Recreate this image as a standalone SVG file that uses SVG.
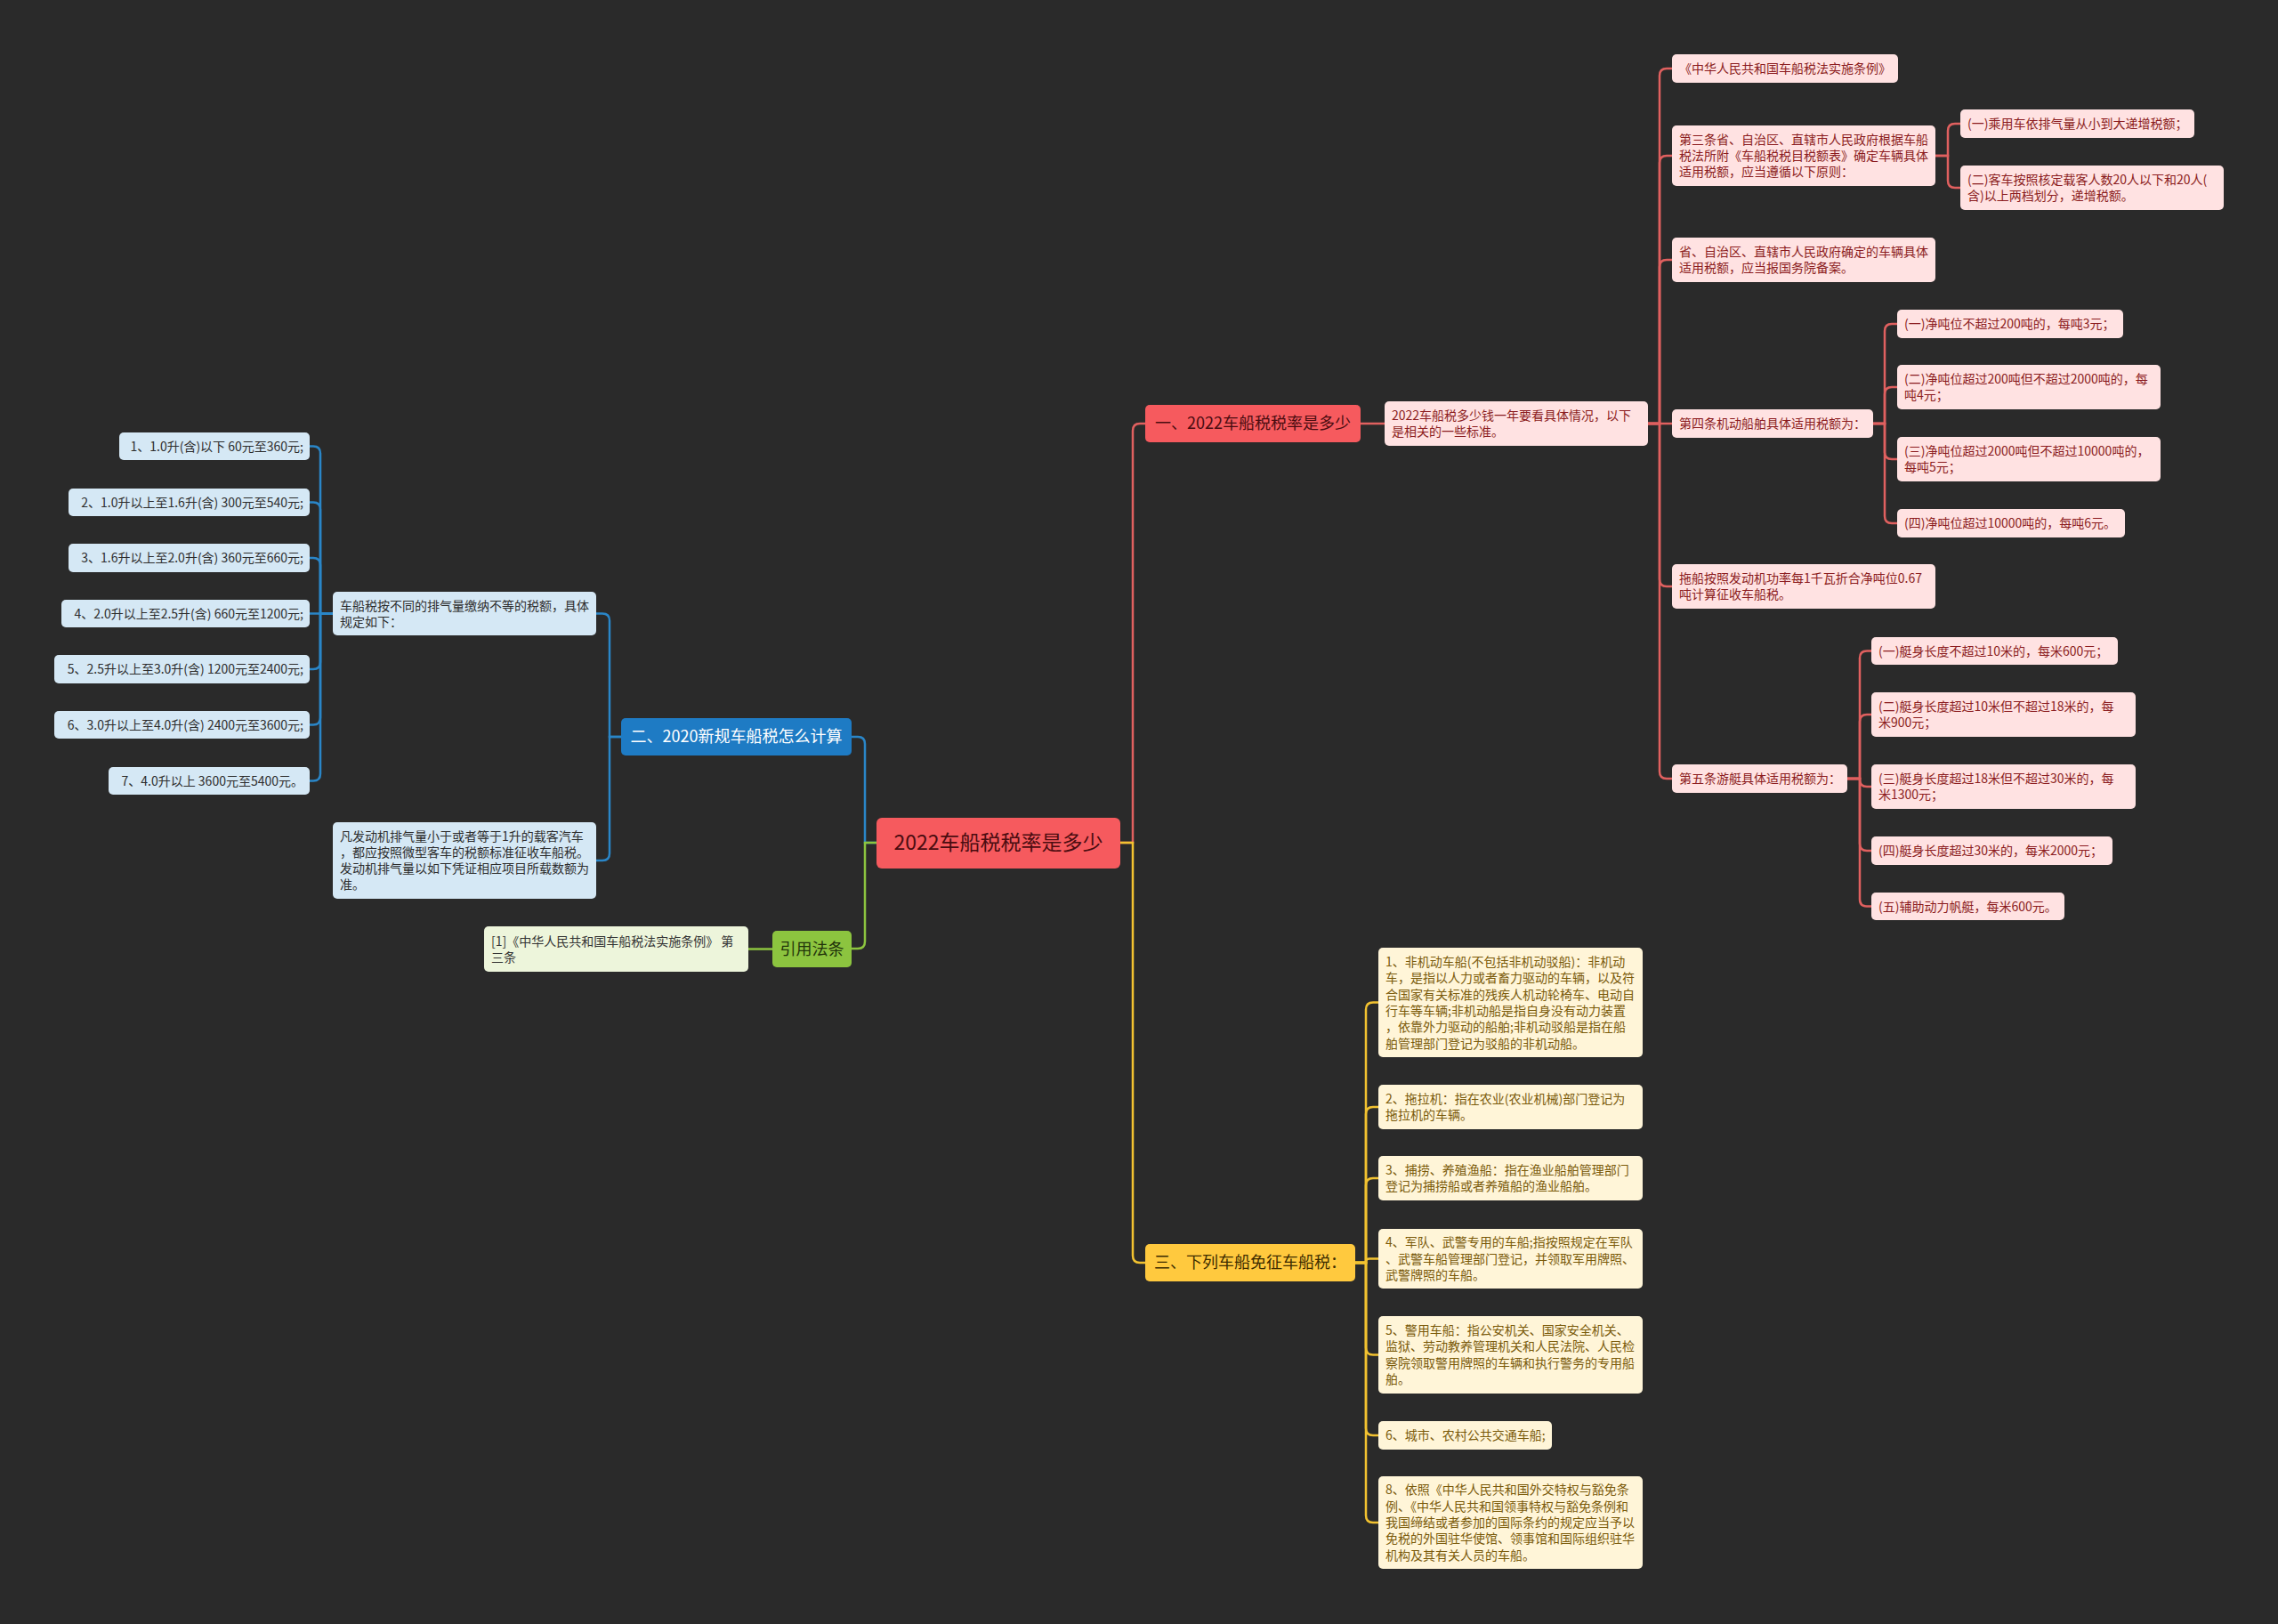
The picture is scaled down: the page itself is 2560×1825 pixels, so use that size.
<svg xmlns="http://www.w3.org/2000/svg" width="2560" height="1825" viewBox="0 0 2560 1825">
<style>
text{font-family:"Noto Sans CJK SC","Liberation Sans",sans-serif;font-size:14px}
.bg{fill:#2a2a2a}
.c{fill:none;stroke-width:2.5;stroke-linecap:round}
.cr{stroke:#e0605f}.cb{stroke:#2a86c8}.cg{stroke:#8cc43f}.cy{stroke:#f2c230}
.rl{fill:#ffe2e2}.rt{fill:#8b1c20}
.bl{fill:#d5e8f5}.bt{fill:#2d2d2d}
.gl{fill:#edf5db}.gt{fill:#333333}
.yl{fill:#fff5d8}.yt{fill:#7a5a0a}
.b1{font-size:18px}
</style>
<rect class="bg" x="0" y="0" width="2560" height="1825"/>

<g id="connectors">
<path class="c cr" d="M1259 947 H1273 V484 Q1273 476 1281 476 H1287"/>
<path class="c cy" d="M1259 947 H1273 V1411 Q1273 1419 1281 1419 H1287"/>
<path class="c cb" d="M985 947 H972 V836 Q972 828 964 828 H957"/>
<path class="c cg" d="M985 947 H972 V1058 Q972 1066 964 1066 H957"/>
<path class="c cr" d="M1529 476 H1556"/>
<path class="c cr" d="M1852 476 H1865 V85 Q1865 77 1873 77 H1879"/>
<path class="c cr" d="M1852 476 H1865 V183 Q1865 175 1873 175 H1879"/>
<path class="c cr" d="M1852 476 H1865 V300 Q1865 292 1873 292 H1879"/>
<path class="c cr" d="M1852 476 H1879"/>
<path class="c cr" d="M1852 476 H1865 V651 Q1865 659 1873 659 H1879"/>
<path class="c cr" d="M1852 476 H1865 V867 Q1865 875 1873 875 H1879"/>
<path class="c cr" d="M2175 175 H2189 V147 Q2189 139 2197 139 H2203"/>
<path class="c cr" d="M2175 175 H2189 V203 Q2189 211 2197 211 H2203"/>
<path class="c cr" d="M2105 476 H2118 V372 Q2118 364 2126 364 H2132"/>
<path class="c cr" d="M2105 476 H2118 V443 Q2118 435 2126 435 H2132"/>
<path class="c cr" d="M2105 476 H2118 V508 Q2118 516 2126 516 H2132"/>
<path class="c cr" d="M2105 476 H2118 V580 Q2118 588 2126 588 H2132"/>
<path class="c cr" d="M2076 875 H2090 V739.5 Q2090 731.5 2098 731.5 H2103"/>
<path class="c cr" d="M2076 875 H2090 V811 Q2090 803 2098 803 H2103"/>
<path class="c cr" d="M2076 875 H2090 V876 Q2090 884 2098 884 H2103"/>
<path class="c cr" d="M2076 875 H2090 V948 Q2090 956 2098 956 H2103"/>
<path class="c cr" d="M2076 875 H2090 V1010.5 Q2090 1018.5 2098 1018.5 H2103"/>
<path class="c cy" d="M1523 1419 H1535 V1134.5 Q1535 1126.5 1543 1126.5 H1549"/>
<path class="c cy" d="M1523 1419 H1535 V1252 Q1535 1244 1543 1244 H1549"/>
<path class="c cy" d="M1523 1419 H1535 V1332 Q1535 1324 1543 1324 H1549"/>
<path class="c cy" d="M1523 1419 H1535 V1418 Q1535 1414.5 1539 1414.5 H1549"/>
<path class="c cy" d="M1523 1419 H1535 V1514.5 Q1535 1522.5 1543 1522.5 H1549"/>
<path class="c cy" d="M1523 1419 H1535 V1605 Q1535 1613 1543 1613 H1549"/>
<path class="c cy" d="M1523 1419 H1535 V1703 Q1535 1711 1543 1711 H1549"/>
<path class="c cb" d="M698 828 H685 V697.5 Q685 689.5 677 689.5 H670"/>
<path class="c cb" d="M698 828 H685 V959 Q685 967 677 967 H670"/>
<path class="c cb" d="M374 689.5 H360 V509.5 Q360 501.5 352 501.5 H348"/>
<path class="c cb" d="M374 689.5 H360 V572.5 Q360 564.5 352 564.5 H348"/>
<path class="c cb" d="M374 689.5 H360 V635 Q360 627 352 627 H348"/>
<path class="c cb" d="M374 689.5 H348"/>
<path class="c cb" d="M374 689.5 H360 V744 Q360 752 352 752 H348"/>
<path class="c cb" d="M374 689.5 H360 V806.5 Q360 814.5 352 814.5 H348"/>
<path class="c cb" d="M374 689.5 H360 V869.5 Q360 877.5 352 877.5 H348"/>
<path class="c cg" d="M868 1066.5 H841"/>
</g>

<g id="root"><rect x="985" y="919" width="274" height="57" rx="6" fill="#f65a5e"/><text x="1122" y="955" text-anchor="middle" style="font-size:23px" fill="#4a0c10">2022车船税税率是多少</text></g>

<g id="n1"><rect x="1287" y="455" width="242" height="42" rx="5" fill="#f65a5e"/><text class="b1" x="1408" y="482" text-anchor="middle" fill="#4a0c10">一、2022车船税税率是多少</text></g>
<g id="n1a"><rect class="rl" x="1556" y="451" width="296" height="50" rx="5"/><text class="rt" x="1564" y="472">2022车船税多少钱一年要看具体情况，以下</text><text class="rt" x="1564" y="490">是相关的一些标准。</text></g>
<g id="r1"><rect class="rl" x="1879" y="61" width="254" height="32" rx="5"/><text class="rt" x="1887" y="82">《中华人民共和国车船税法实施条例》</text></g>
<g id="r2"><rect class="rl" x="1879" y="141" width="296" height="68" rx="5"/><text class="rt" x="1887" y="162">第三条省、自治区、直辖市人民政府根据车船</text><text class="rt" x="1887" y="180">税法所附《车船税税目税额表》确定车辆具体</text><text class="rt" x="1887" y="198">适用税额，应当遵循以下原则：</text></g>
<g id="r2a"><rect class="rl" x="2203" y="123" width="263" height="32" rx="5"/><text class="rt" x="2211" y="144">(一)乘用车依排气量从小到大递增税额；</text></g>
<g id="r2b"><rect class="rl" x="2203" y="186" width="296" height="50" rx="5"/><text class="rt" x="2211" y="207">(二)客车按照核定载客人数20人以下和20人(</text><text class="rt" x="2211" y="225">含)以上两档划分，递增税额。</text></g>
<g id="r3"><rect class="rl" x="1879" y="267" width="296" height="50" rx="5"/><text class="rt" x="1887" y="288">省、自治区、直辖市人民政府确定的车辆具体</text><text class="rt" x="1887" y="306">适用税额，应当报国务院备案。</text></g>
<g id="r4"><rect class="rl" x="1879" y="460" width="226" height="32" rx="5"/><text class="rt" x="1887" y="481">第四条机动船舶具体适用税额为：</text></g>
<g id="r4a"><rect class="rl" x="2132" y="348" width="254" height="32" rx="5"/><text class="rt" x="2140" y="369">(一)净吨位不超过200吨的，每吨3元；</text></g>
<g id="r4b"><rect class="rl" x="2132" y="410" width="296" height="50" rx="5"/><text class="rt" x="2140" y="431">(二)净吨位超过200吨但不超过2000吨的，每</text><text class="rt" x="2140" y="449">吨4元；</text></g>
<g id="r4c"><rect class="rl" x="2132" y="491" width="296" height="50" rx="5"/><text class="rt" x="2140" y="512">(三)净吨位超过2000吨但不超过10000吨的，</text><text class="rt" x="2140" y="530">每吨5元；</text></g>
<g id="r4d"><rect class="rl" x="2132" y="572" width="256" height="32" rx="5"/><text class="rt" x="2140" y="593">(四)净吨位超过10000吨的，每吨6元。</text></g>
<g id="r5"><rect class="rl" x="1879" y="634" width="296" height="50" rx="5"/><text class="rt" x="1887" y="655">拖船按照发动机功率每1千瓦折合净吨位0.67</text><text class="rt" x="1887" y="673">吨计算征收车船税。</text></g>
<g id="r6"><rect class="rl" x="1879" y="859" width="197" height="32" rx="5"/><text class="rt" x="1887" y="880">第五条游艇具体适用税额为：</text></g>
<g id="r6a"><rect class="rl" x="2103" y="716" width="277" height="31" rx="5"/><text class="rt" x="2111" y="737">(一)艇身长度不超过10米的，每米600元；</text></g>
<g id="r6b"><rect class="rl" x="2103" y="778" width="297" height="50" rx="5"/><text class="rt" x="2111" y="799">(二)艇身长度超过10米但不超过18米的，每</text><text class="rt" x="2111" y="817">米900元；</text></g>
<g id="r6c"><rect class="rl" x="2103" y="859" width="297" height="50" rx="5"/><text class="rt" x="2111" y="880">(三)艇身长度超过18米但不超过30米的，每</text><text class="rt" x="2111" y="898">米1300元；</text></g>
<g id="r6d"><rect class="rl" x="2103" y="940" width="271" height="32" rx="5"/><text class="rt" x="2111" y="961">(四)艇身长度超过30米的，每米2000元；</text></g>
<g id="r6e"><rect class="rl" x="2103" y="1003" width="217" height="31" rx="5"/><text class="rt" x="2111" y="1024">(五)辅助动力帆艇，每米600元。</text></g>

<g id="n3"><rect x="1287" y="1398" width="236" height="42" rx="5" fill="#ffc93e"/><text class="b1" x="1297" y="1425" fill="#3d2c00">三、下列车船免征车船税：</text></g>
<g id="y1"><rect class="yl" x="1549" y="1065" width="297" height="123" rx="5"/><text class="yt" x="1557" y="1086">1、非机动车船(不包括非机动驳船)：非机动</text><text class="yt" x="1557" y="1104.3">车，是指以人力或者畜力驱动的车辆，以及符</text><text class="yt" x="1557" y="1122.6">合国家有关标准的残疾人机动轮椅车、电动自</text><text class="yt" x="1557" y="1140.9">行车等车辆;非机动船是指自身没有动力装置</text><text class="yt" x="1557" y="1159.2">，依靠外力驱动的船舶;非机动驳船是指在船</text><text class="yt" x="1557" y="1177.5">舶管理部门登记为驳船的非机动船。</text></g>
<g id="y2"><rect class="yl" x="1549" y="1219" width="297" height="50" rx="5"/><text class="yt" x="1557" y="1240">2、拖拉机：指在农业(农业机械)部门登记为</text><text class="yt" x="1557" y="1258.3">拖拉机的车辆。</text></g>
<g id="y3"><rect class="yl" x="1549" y="1299" width="297" height="50" rx="5"/><text class="yt" x="1557" y="1320">3、捕捞、养殖渔船：指在渔业船舶管理部门</text><text class="yt" x="1557" y="1338.3">登记为捕捞船或者养殖船的渔业船舶。</text></g>
<g id="y4"><rect class="yl" x="1549" y="1381" width="297" height="67" rx="5"/><text class="yt" x="1557" y="1401.2">4、军队、武警专用的车船;指按照规定在军队</text><text class="yt" x="1557" y="1419.5">、武警车船管理部门登记，并领取军用牌照、</text><text class="yt" x="1557" y="1437.8">武警牌照的车船。</text></g>
<g id="y5"><rect class="yl" x="1549" y="1479" width="297" height="87" rx="5"/><text class="yt" x="1557" y="1500">5、警用车船：指公安机关、国家安全机关、</text><text class="yt" x="1557" y="1518.3">监狱、劳动教养管理机关和人民法院、人民检</text><text class="yt" x="1557" y="1536.6">察院领取警用牌照的车辆和执行警务的专用船</text><text class="yt" x="1557" y="1554.9">舶。</text></g>
<g id="y6"><rect class="yl" x="1549" y="1597" width="195" height="32" rx="5"/><text class="yt" x="1557" y="1618">6、城市、农村公共交通车船;</text></g>
<g id="y8"><rect class="yl" x="1549" y="1659" width="297" height="104" rx="5"/><text class="yt" x="1557" y="1679.4">8、依照《中华人民共和国外交特权与豁免条</text><text class="yt" x="1557" y="1697.7">例、《中华人民共和国领事特权与豁免条例和</text><text class="yt" x="1557" y="1716">我国缔结或者参加的国际条约的规定应当予以</text><text class="yt" x="1557" y="1734.3">免税的外国驻华使馆、领事馆和国际组织驻华</text><text class="yt" x="1557" y="1752.6">机构及其有关人员的车船。</text></g>

<g id="n2"><rect x="698" y="807" width="259" height="42" rx="5" fill="#1e7bc4"/><text class="b1" x="827.5" y="834" text-anchor="middle" fill="#ffffff">二、2020新规车船税怎么计算</text></g>
<g id="b0"><rect class="bl" x="374" y="665" width="296" height="49" rx="5"/><text class="bt" x="382" y="685.5">车船税按不同的排气量缴纳不等的税额，具体</text><text class="bt" x="382" y="703.5">规定如下：</text></g>
<g id="b8"><rect class="bl" x="374" y="924" width="296" height="86" rx="5"/><text class="bt" x="382" y="945">凡发动机排气量小于或者等于1升的载客汽车</text><text class="bt" x="382" y="963">，都应按照微型客车的税额标准征收车船税。</text><text class="bt" x="382" y="981">发动机排气量以如下凭证相应项目所载数额为</text><text class="bt" x="382" y="999">准。</text></g>
<g id="b1"><rect class="bl" x="134" y="486" width="214" height="31" rx="5"/><text class="bt" x="341" y="506.5" text-anchor="end">1、1.0升(含)以下 60元至360元;</text></g>
<g id="b2"><rect class="bl" x="77" y="549" width="271" height="31" rx="5"/><text class="bt" x="341" y="569.5" text-anchor="end">2、1.0升以上至1.6升(含) 300元至540元;</text></g>
<g id="b3"><rect class="bl" x="77" y="611" width="271" height="32" rx="5"/><text class="bt" x="341" y="632" text-anchor="end">3、1.6升以上至2.0升(含) 360元至660元;</text></g>
<g id="b4"><rect class="bl" x="69" y="674" width="279" height="31" rx="5"/><text class="bt" x="341" y="694.5" text-anchor="end">4、2.0升以上至2.5升(含) 660元至1200元;</text></g>
<g id="b5"><rect class="bl" x="61" y="736" width="287" height="32" rx="5"/><text class="bt" x="341" y="757" text-anchor="end">5、2.5升以上至3.0升(含) 1200元至2400元;</text></g>
<g id="b6"><rect class="bl" x="61" y="799" width="287" height="31" rx="5"/><text class="bt" x="341" y="819.5" text-anchor="end">6、3.0升以上至4.0升(含) 2400元至3600元;</text></g>
<g id="b7"><rect class="bl" x="122" y="862" width="226" height="31" rx="5"/><text class="bt" x="341" y="882.5" text-anchor="end">7、4.0升以上 3600元至5400元。</text></g>

<g id="n4"><rect x="868" y="1046" width="89" height="41" rx="5" fill="#8cc43f"/><text class="b1" x="912.5" y="1073" text-anchor="middle" fill="#22330a">引用法条</text></g>
<g id="g1"><rect class="gl" x="544" y="1041" width="297" height="51" rx="5"/><text class="gt" x="552" y="1062.5">[1]《中华人民共和国车船税法实施条例》 第</text><text class="gt" x="552" y="1080.5">三条</text></g>
</svg>
